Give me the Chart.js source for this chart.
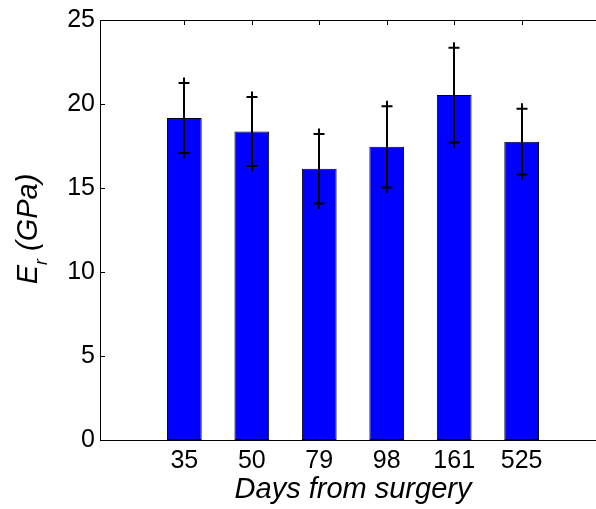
<!DOCTYPE html>
<html>
<head>
<meta charset="utf-8">
<script src="https://cdn.jsdelivr.net/npm/chart.js@4/dist/chart.umd.min.js"></script>
<style>
html,body{margin:0;padding:0;background:#fff;overflow:hidden;}
#wrap{width:596px;height:509px;overflow:hidden;position:relative;}
canvas{display:block;}
</style>
</head>
<body>
<div id="wrap"><canvas id="c" width="606" height="509" style="width:606px;height:509px"></canvas></div>
<script>
// ---- data ----
const categories = ['35', '50', '79', '98', '161', '525'];
const meanValues = [19.17, 18.36, 16.14, 17.45, 20.53, 17.76];
const errValues  = [2.08, 2.05, 2.07, 2.42, 2.82, 1.95];
const yTicks = [0, 5, 10, 15, 20, 25];
const xTitle = 'Days from surgery';
const yTitleMain = 'E';
const yTitleSub = 'r';
const yTitleRest = ' (GPa)';

const FONT = '"Liberation Sans", Arial, Helvetica, sans-serif';

const errorBarPlugin = {
  id: 'errorBars',
  afterDatasetsDraw(chart) {
    const ctx = chart.ctx;
    const xs = chart.scales.x, ys = chart.scales.y;
    ctx.save();
    ctx.strokeStyle = '#000';
    ctx.lineWidth = 2;
    meanValues.forEach((m, i) => {
      const x = Math.round(xs.getPixelForValue(i + 1));
      const yHi = ys.getPixelForValue(m + errValues[i]);
      const yLo = ys.getPixelForValue(m - errValues[i]);
      const arm = 5.5;
      ctx.beginPath();
      ctx.moveTo(x, yHi - arm);
      ctx.lineTo(x, yLo + arm);
      ctx.moveTo(x - arm, yHi);
      ctx.lineTo(x + arm, yHi);
      ctx.moveTo(x - arm, yLo);
      ctx.lineTo(x + arm, yLo);
      ctx.stroke();
    });
    ctx.restore();
  }
};

const frameTicksPlugin = {
  id: 'frameTicks',
  afterDraw(chart) {
    const ctx = chart.ctx;
    const a = chart.chartArea;
    const xs = chart.scales.x, ys = chart.scales.y;
    const tl = 5;
    ctx.save();
    ctx.strokeStyle = '#000';
    ctx.lineWidth = 1;
    ctx.beginPath();
    ctx.moveTo(a.left, Math.round(a.top) + 0.5);
    ctx.lineTo(a.right, Math.round(a.top) + 0.5);
    yTicks.forEach(v => {
      const y = Math.round(ys.getPixelForValue(v)) + 0.5;
      ctx.moveTo(a.left, y);
      ctx.lineTo(a.left + tl, y);
    });
    categories.forEach((c, i) => {
      const x = Math.round(xs.getPixelForValue(i + 1)) + 0.5;
      ctx.moveTo(x, Math.round(a.top));
      ctx.lineTo(x, Math.round(a.top) + tl);
    });
    ctx.stroke();

    const big = 'italic 29px ' + FONT;
    const small = 'italic 18px ' + FONT;
    ctx.fillStyle = '#000';
    ctx.font = big;
    const wE = ctx.measureText(yTitleMain).width;
    const wRest = ctx.measureText(yTitleRest).width;
    ctx.font = small;
    const wR = ctx.measureText(yTitleSub).width;
    const total = wE + wR + wRest;
    ctx.translate(37, 229);
    ctx.rotate(-Math.PI / 2);
    ctx.textBaseline = 'alphabetic';
    ctx.textAlign = 'left';
    let x0 = -total / 2;
    ctx.font = big;
    ctx.fillText(yTitleMain, x0, 0);
    x0 += wE;
    ctx.font = small;
    ctx.fillText(yTitleSub, x0, 10);
    x0 += wR;
    ctx.font = big;
    ctx.fillText(yTitleRest, x0, 0);
    ctx.restore();
  }
};

new Chart(document.getElementById('c'), {
  type: 'bar',
  data: {
    datasets: [{
      data: meanValues.map((v, i) => ({ x: i + 1, y: v })),
      backgroundColor: '#0000ff',
      borderColor: '#000',
      borderWidth: 1,
      borderSkipped: false,
      categoryPercentage: 1,
      barPercentage: 0.515
    }]
  },
  options: {
    responsive: false,
    animation: false,
    devicePixelRatio: 1,
    layout: { padding: { top: 18, right: 0, left: 0, bottom: 0 } },
    plugins: { legend: { display: false }, tooltip: { enabled: false } },
    scales: {
      x: {
        type: 'linear',
        offset: false,
        min: -0.25,
        max: 7.25,
        grid: { display: false, drawTicks: false, offset: false },
        border: { display: true, color: '#000', width: 1 },
        afterBuildTicks: (s) => { s.ticks = categories.map((c, i) => ({ value: i + 1 })); },
        ticks: {
          autoSkip: false,
          maxRotation: 0,
          padding: 6,
          color: '#000',
          font: { family: FONT, size: 25 },
          callback: (v) => categories[v - 1] ?? ''
        },
        title: {
          display: true,
          text: xTitle,
          color: '#000',
          padding: { top: 0, bottom: 2 },
          font: { family: FONT, size: 29, style: 'italic' }
        },
        afterFit: (s) => { s.height = 69; }
      },
      y: {
        min: 0,
        max: 25,
        grid: { display: false, drawTicks: false },
        border: { display: true, color: '#000', width: 1 },
        afterBuildTicks: (s) => { s.ticks = yTicks.map(v => ({ value: v })); },
        ticks: {
          padding: 5,
          color: '#000',
          font: { family: FONT, size: 25 }
        },
        afterFit: (s) => { s.width = 100; }
      }
    }
  },
  plugins: [errorBarPlugin, frameTicksPlugin]
});
</script>
</body>
</html>
